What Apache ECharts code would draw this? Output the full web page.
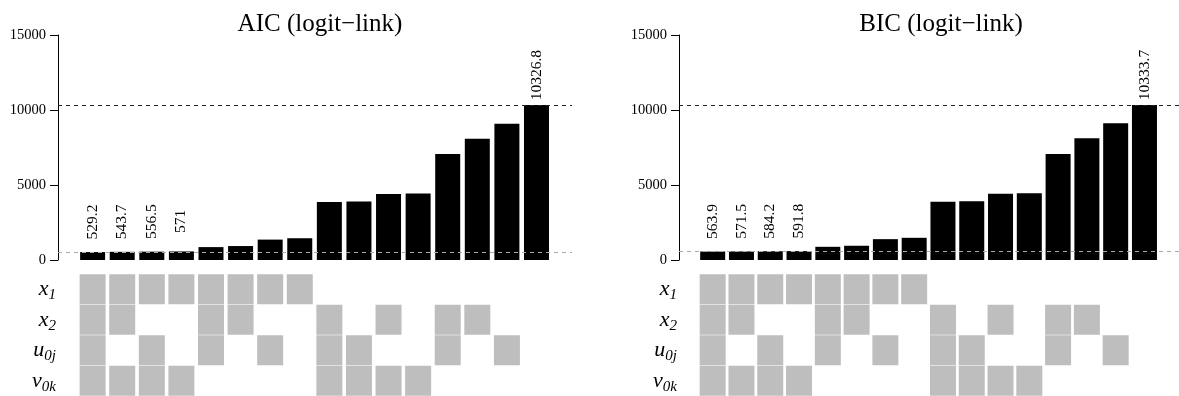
<!DOCTYPE html>
<html><head><meta charset="utf-8">
<script src="https://cdn.jsdelivr.net/npm/echarts@6/dist/echarts.min.js"></script>
<style>html,body{margin:0;padding:0;background:#fff}#c{width:1179px;height:396px}</style>
</head><body><div id="c"></div>
<script>
// ---- data ----
const aicValues = [529.2, 543.7, 556.5, 571, 860, 930, 1360, 1450, 3870, 3900, 4400, 4440, 7060, 8090, 9090, 10326.8];
const bicValues = [563.9, 571.5, 584.2, 591.8, 880, 950, 1390, 1480, 3890, 3910, 4420, 4450, 7070, 8110, 9110, 10333.7];
const yTicks = [0, 5000, 10000, 15000];
const termLabels = ['x1', 'x2', 'u0j', 'v0k'];
const x1Included  = [1,1,1,1,1,1,1,1,0,0,0,0,0,0,0,0];
const x2Included  = [1,1,0,0,1,1,0,0,1,0,1,0,1,1,0,0];
const u0jIncluded = [1,0,1,0,1,0,1,0,1,1,0,0,1,0,1,0];
const v0kIncluded = [1,1,1,1,0,0,0,0,1,1,1,1,0,0,0,0];
const panelTitles = ['AIC (logit\u2212link)', 'BIC (logit\u2212link)'];

const inclusion = [x1Included, x2Included, u0jIncluded, v0kIncluded];
const panels = [
  {title: panelTitles[0], values: aicValues, left: 58},
  {title: panelTitles[1], values: bicValues, left: 679}
];
const FONT = 'Liberation Serif';
const W = 514, XMIN = -1.17, XMAX = 16.2;

const grid = [], xAxis = [], yAxis = [], series = [], title = [];
panels.forEach((p, k) => {
  const n = p.values.length;
  grid.push({left: p.left, top: 35, width: W, height: 225});
  grid.push({left: p.left, top: 274, width: W, height: 127.6});
  title.push({text: p.title, left: p.left + W / 2, textAlign: 'center', top: 7,
    textStyle: {fontFamily: FONT, fontSize: 25, fontWeight: 'normal', color: '#000'}});
  xAxis.push({type: 'value', gridIndex: 2 * k, min: XMIN, max: XMAX, show: false});
  xAxis.push({type: 'value', gridIndex: 2 * k + 1, min: XMIN, max: XMAX, show: false});
  yAxis.push({type: 'value', gridIndex: 2 * k, min: yTicks[0], max: yTicks[yTicks.length - 1], interval: 5000,
    axisLine: {show: true, onZero: false, lineStyle: {color: '#000', width: 1}},
    axisTick: {show: true, inside: false, length: 8, lineStyle: {color: '#000', width: 1}},
    axisLabel: {fontFamily: FONT, fontSize: 14.5, color: '#000', margin: 12, formatter: v => String(v)},
    splitLine: {show: false}});
  yAxis.push({type: 'category', gridIndex: 2 * k + 1, data: termLabels, inverse: true,
    axisLine: {show: false, onZero: false}, axisTick: {show: false},
    axisLabel: {margin: 2, formatter: v => '{m|' + v[0] + '}{s|' + v.slice(1) + '}',
      rich: {
        m: {fontFamily: FONT, fontStyle: 'italic', fontSize: 22, color: '#000', verticalAlign: 'middle', lineHeight: 24},
        s: {fontFamily: FONT, fontStyle: 'italic', fontSize: 15, color: '#000', verticalAlign: 'bottom', lineHeight: 27}
      }}});
  const maxV = Math.max(...p.values), minV = Math.min(...p.values);
  series.push({type: 'bar', xAxisIndex: 2 * k, yAxisIndex: 2 * k,
    data: p.values.map((v, i) => [i, v]), barWidth: 25,
    itemStyle: {color: '#000'},
    label: {show: true, position: 'top', distance: 30, rotate: 90, align: 'center', verticalAlign: 'middle',
      fontFamily: FONT, fontSize: 15.5, color: '#000',
      formatter: q => (q.dataIndex < 4 || q.dataIndex === n - 1) ? String(q.value[1]) : ''},
    markLine: {silent: true, symbol: 'none', label: {show: false}, animation: false,
      data: [
        {yAxis: maxV, lineStyle: {color: '#222', type: [4, 4], width: 1}},
        {yAxis: minV, lineStyle: {color: '#aaa', type: [4, 4], width: 1}}
      ]}
  });
  const cells = [];
  inclusion.forEach((row, r) => row.forEach((f, c) => { if (f) cells.push([c, r]); }));
  series.push({type: 'scatter', xAxisIndex: 2 * k + 1, yAxisIndex: 2 * k + 1,
    data: cells, symbol: 'rect', symbolSize: [26, 30],
    itemStyle: {color: '#bebebe', opacity: 1}});
});

const chart = echarts.init(document.getElementById('c'), null, {renderer: 'canvas'});
chart.setOption({animation: false, backgroundColor: '#fff', title, grid, xAxis, yAxis, series});
</script>
</body></html>
